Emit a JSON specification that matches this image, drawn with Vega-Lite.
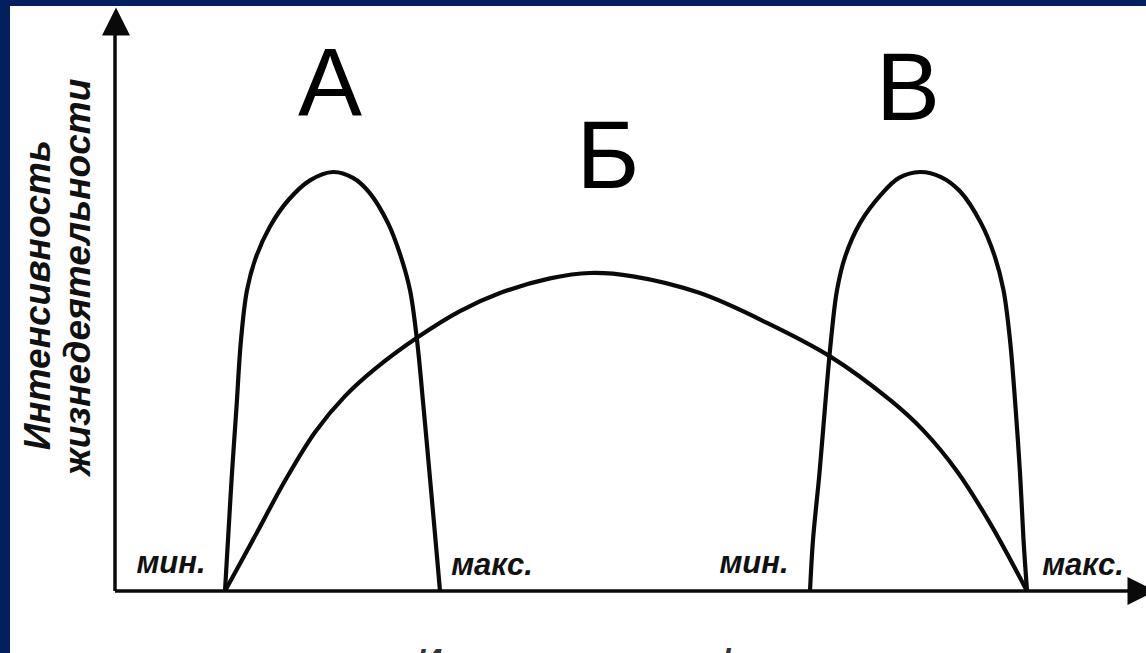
{
  "$schema": "https://vega.github.io/schema/vega-lite/v6.json",
  "width": 1136,
  "height": 647,
  "autosize": {"type": "none"},
  "padding": {"left": 10, "top": 6, "right": 0, "bottom": 0},
  "background": "#03205e",
  "view": {"fill": "#ffffff", "stroke": null},
  "datasets": {
    "curves": [
      {"curve": "А", "x": 11.0, "y": 0},
      {"curve": "А", "x": 11.3, "y": 12.2},
      {"curve": "А", "x": 11.7, "y": 28.2},
      {"curve": "А", "x": 12.15, "y": 43.9},
      {"curve": "А", "x": 12.6, "y": 59.9},
      {"curve": "А", "x": 13.2, "y": 71.8},
      {"curve": "А", "x": 14.1, "y": 79.7},
      {"curve": "А", "x": 15.5, "y": 87.0},
      {"curve": "А", "x": 17.3, "y": 93.2},
      {"curve": "А", "x": 19.5, "y": 98.0},
      {"curve": "А", "x": 21.8, "y": 100},
      {"curve": "А", "x": 23.8, "y": 98.6},
      {"curve": "А", "x": 25.4, "y": 95.2},
      {"curve": "А", "x": 27.3, "y": 87.8},
      {"curve": "А", "x": 28.6, "y": 79.7},
      {"curve": "А", "x": 29.5, "y": 71.8},
      {"curve": "А", "x": 30.2, "y": 59.9},
      {"curve": "А", "x": 30.85, "y": 43.9},
      {"curve": "А", "x": 31.45, "y": 28.2},
      {"curve": "А", "x": 32.05, "y": 12.2},
      {"curve": "А", "x": 32.5, "y": 0},
      {"curve": "Б", "x": 11.0, "y": 0},
      {"curve": "Б", "x": 14.0, "y": 13.1},
      {"curve": "Б", "x": 17.0, "y": 26.3},
      {"curve": "Б", "x": 20.0, "y": 37.9},
      {"curve": "Б", "x": 23.0, "y": 46.5},
      {"curve": "Б", "x": 26.0, "y": 53.0},
      {"curve": "Б", "x": 30.3, "y": 60.6},
      {"curve": "Б", "x": 34.5, "y": 66.8},
      {"curve": "Б", "x": 38.5, "y": 71.1},
      {"curve": "Б", "x": 43.5, "y": 74.6},
      {"curve": "Б", "x": 47.5, "y": 75.9},
      {"curve": "Б", "x": 51.8, "y": 75.1},
      {"curve": "Б", "x": 58.5, "y": 71.1},
      {"curve": "Б", "x": 65.2, "y": 64.0},
      {"curve": "Б", "x": 71.5, "y": 56.0},
      {"curve": "Б", "x": 77.5, "y": 45.6},
      {"curve": "Б", "x": 80.8, "y": 38.4},
      {"curve": "Б", "x": 84.2, "y": 28.6},
      {"curve": "Б", "x": 87.5, "y": 16.2},
      {"curve": "Б", "x": 91.2, "y": 0},
      {"curve": "В", "x": 69.5, "y": 0},
      {"curve": "В", "x": 69.8, "y": 12.2},
      {"curve": "В", "x": 70.45, "y": 28.2},
      {"curve": "В", "x": 71.0, "y": 43.9},
      {"curve": "В", "x": 71.6, "y": 59.9},
      {"curve": "В", "x": 72.2, "y": 71.8},
      {"curve": "В", "x": 73.0, "y": 79.7},
      {"curve": "В", "x": 74.5, "y": 87.8},
      {"curve": "В", "x": 76.6, "y": 94.6},
      {"curve": "В", "x": 78.4, "y": 98.6},
      {"curve": "В", "x": 80.5, "y": 100},
      {"curve": "В", "x": 82.6, "y": 98.8},
      {"curve": "В", "x": 84.5, "y": 95.4},
      {"curve": "В", "x": 86.6, "y": 87.8},
      {"curve": "В", "x": 88.0, "y": 79.7},
      {"curve": "В", "x": 88.85, "y": 71.8},
      {"curve": "В", "x": 89.5, "y": 59.9},
      {"curve": "В", "x": 90.05, "y": 43.9},
      {"curve": "В", "x": 90.5, "y": 28.2},
      {"curve": "В", "x": 90.85, "y": 12.2},
      {"curve": "В", "x": 91.2, "y": 0}
    ],
    "axes": [
      {"x": 0, "y": 0, "x2": 0, "y2": 133},
      {"x": 0, "y": 0, "x2": 101.5, "y2": 0}
    ],
    "arrows": [
      {"dir": "up", "x": 0.1, "y": 135.9},
      {"dir": "right", "x": 102.65, "y": 0}
    ],
    "letters": [
      {"text": "А", "x": 21.5, "y": 113.6},
      {"text": "Б", "x": 49.3, "y": 96.2},
      {"text": "В", "x": 79.3, "y": 112.4}
    ],
    "limits": [
      {"text": "мин.", "x": 5.6, "y": 4.3},
      {"text": "макс.", "x": 37.7, "y": 3.8},
      {"text": "мин.", "x": 63.9, "y": 4.3},
      {"text": "макс.", "x": 96.8, "y": 3.8}
    ],
    "ytitle": [
      {"text": "Интенсивность", "x": -6.5, "y": 70.6},
      {"text": "жизнедеятельности", "x": -2.5, "y": 74.9}
    ],
    "xtitle": [
      {"text": "Интенсивность фактора", "x": 52.7, "y": -19.3}
    ]
  },
  "encoding": {
    "x": {"field": "x", "type": "quantitative", "scale": {"domain": [-10.5, 103.1], "nice": false, "zero": false}, "axis": null},
    "y": {"field": "y", "type": "quantitative", "scale": {"domain": [-14.8, 139.62], "nice": false, "zero": false}, "axis": null}
  },
  "layer": [
    {
      "data": {"name": "axes"},
      "mark": {"type": "rule", "color": "#0a0a0a", "strokeWidth": 3.5},
      "encoding": {
        "x2": {"field": "x2"},
        "y2": {"field": "y2"}
      }
    },
    {
      "data": {"name": "arrows"},
      "mark": {"type": "point", "filled": true, "opacity": 1, "color": "#0a0a0a", "size": 784, "strokeWidth": 0},
      "encoding": {
        "shape": {"field": "dir", "type": "nominal", "scale": {"domain": ["up", "right"], "range": ["M0,-1L-1,1L1,1Z", "M1,0L-1,-1L-1,1Z"]}, "legend": null}
      }
    },
    {
      "data": {"name": "curves"},
      "mark": {"type": "line", "interpolate": "catmull-rom", "color": "#0a0a0a", "strokeWidth": 4.2},
      "encoding": {
        "detail": {"field": "curve", "type": "nominal"}
      }
    },
    {
      "data": {"name": "letters"},
      "mark": {"type": "text", "font": "Liberation Sans", "fontSize": 96, "align": "center", "baseline": "alphabetic", "color": "#000000"},
      "encoding": {"text": {"field": "text"}}
    },
    {
      "data": {"name": "limits"},
      "mark": {"type": "text", "font": "Liberation Sans", "fontSize": 31, "fontStyle": "italic", "fontWeight": "bold", "align": "center", "baseline": "alphabetic", "color": "#111111"},
      "encoding": {"text": {"field": "text"}}
    },
    {
      "data": {"name": "ytitle"},
      "mark": {"type": "text", "font": "Liberation Sans", "fontSize": 37, "fontStyle": "italic", "fontWeight": "bold", "align": "center", "baseline": "alphabetic", "angle": 270, "color": "#111111"},
      "encoding": {"text": {"field": "text"}}
    },
    {
      "data": {"name": "xtitle"},
      "mark": {"type": "text", "font": "Liberation Sans", "fontSize": 34, "fontStyle": "italic", "fontWeight": "bold", "align": "center", "baseline": "alphabetic", "color": "#333333"},
      "encoding": {"text": {"field": "text"}}
    }
  ]
}
